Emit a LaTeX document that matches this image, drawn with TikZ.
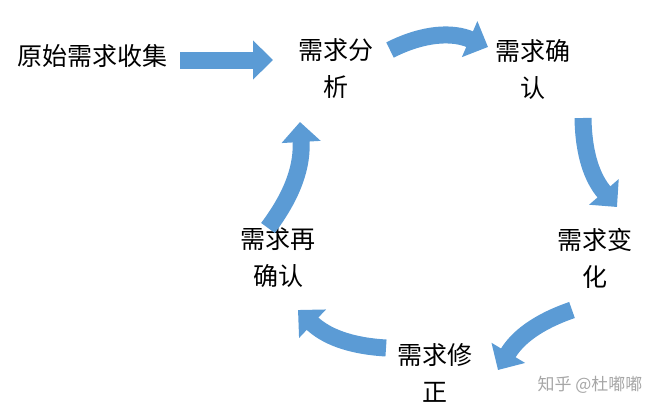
\documentclass[tikz,border=0pt]{standalone}
\usepackage{fontspec}
\setmainfont{Noto Sans CJK SC}
\usetikzlibrary{arrows.meta}
\definecolor{ab}{HTML}{5B9BD5}
\definecolor{ao}{HTML}{41719C}
\tikzset{
 lbl/.style={font=\fontsize{25}{37}\selectfont, align=center, text=black},
 barr/.style={draw=ab, line width=17pt, -{Triangle[length=20pt 0 0, width=38pt 0 0]}},
}
\begin{document}
\begin{tikzpicture}[x=1pt,y=-1pt]
\useasboundingbox (0,0) rectangle (667,415);
\node[lbl] (src) at (92,56) {原始需求收集};
\node[lbl] (ana) at (336,69) {需求分\\析};
\node[lbl] (con) at (533,69) {需求确\\认};
\node[lbl] (chg) at (595,258) {需求变\\化};
\node[lbl] (fix) at (435,373) {需求修\\正};
\node[lbl] (rec) at (278,258) {需求再\\确认};
\node[font=\fontsize{17}{20}\selectfont, text=gray!70] (wm) at (590,385) {知乎 @杜嘟嘟};
\coordinate (s1) at (180,60); \coordinate (e1) at (273,60);
\coordinate (s2) at (390,50); \coordinate (e2) at (488,47);
\coordinate (s3) at (583,118); \coordinate (e3) at (617,207);
\coordinate (s4) at (572,310); \coordinate (e4) at (498,370);
\coordinate (s5) at (386,348); \coordinate (e5) at (298,310);
\coordinate (s6) at (268,228); \coordinate (e6) at (300,122);
\draw[barr] (s1) -- (e1);
\draw[barr] (s2) to[bend left=25] (e2);
\draw[barr] (s3) to[bend right=20] (e3);
\draw[barr] (s4) to[bend right=20] (e4);
\draw[barr] (s5) to[bend left=20] (e5);
\draw[barr] (s6) to[bend right=20] (e6);
\end{tikzpicture}
\end{document}
